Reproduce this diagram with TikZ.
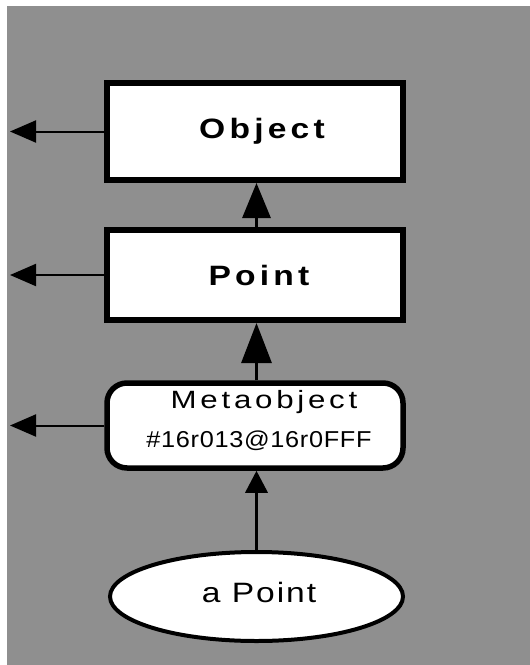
\documentclass[tikz,border=0pt]{standalone}
\usepackage{fontspec}
\setmainfont{Liberation Sans}
\newfontfamily\titlefont[LetterSpace=15,FakeStretch=1.2]{Liberation Sans}
\newfontfamily\metafont[LetterSpace=15,FakeStretch=1.25]{Liberation Sans}
\newfontfamily\hexfont[LetterSpace=3,FakeStretch=1.1]{Liberation Sans}
\newfontfamily\instfont[LetterSpace=7,FakeStretch=1.2]{Liberation Sans}
\usetikzlibrary{arrows.meta,shapes.geometric}
\definecolor{bggray}{gray}{0.56}
\tikzset{
  classbox/.style={draw=black, fill=white, line width=6pt, rectangle,
    minimum width=296pt, minimum height=#1, inner sep=0pt},
  metabox/.style={draw=black, fill=white, line width=5.5pt, rectangle,
    rounded corners=20pt, minimum width=296pt, minimum height=85pt, inner sep=0pt},
  instbox/.style={draw=black, fill=white, line width=4pt, ellipse,
    minimum width=293pt, minimum height=89pt, inner sep=0pt},
  txt/.style={anchor=base, inner sep=0pt},
  leftarrow/.style={-{Triangle[length=26pt,width=22pt]}, line width=2pt},
}
\begin{document}
\begin{tikzpicture}[x=1pt,y=-1pt]
\useasboundingbox (0,0) rectangle (530,665);
\fill[bggray] (7,6) rectangle (530,665);
\coordinate (edgeL) at (10,0);
% boxes
\node[classbox=97pt] (obj) at (255,131.5) {};
\node[classbox=90pt] (pt) at (255,275) {};
\node[metabox] (meta) at (255,425.5) {};
\node[instbox] (inst) at (256.5,596.5) {};
% texts
\node[txt] (objtxt) at (262,138) {\titlefont\fontsize{28}{30}\selectfont\bfseries Object};
\node[txt] (pttxt) at (259,285) {\titlefont\fontsize{28}{30}\selectfont\bfseries Point};
\node[txt] (metatxt) at (264,408) {\metafont\fontsize{25}{27}\selectfont Metaobject};
\node[txt] (hextxt) at (259,447) {\hexfont\fontsize{23}{25}\selectfont\#16r013@16r0FFF};
\node[txt] (insttxt) at (259,602) {\instfont\fontsize{28}{30}\selectfont a Point};
% vertical arrows
\draw[-{Triangle[length=35pt,width=28pt]}, line width=3pt] (pt.north -| inst.center) -- (obj.south -| inst.center);
\draw[-{Triangle[length=40pt,width=30pt]}, line width=3pt] (meta.north -| inst.center) -- (pt.south -| inst.center);
\draw[-{Triangle[length=22pt,width=22pt]}, line width=3.5pt] (inst.north) -- (meta.south -| inst.north);
% left arrows
\draw[leftarrow] (obj.west) -- (obj.west -| edgeL);
\draw[leftarrow] (pt.west) -- (pt.west -| edgeL);
\draw[leftarrow] (meta.west) -- (meta.west -| edgeL);
\end{tikzpicture}
\end{document}
